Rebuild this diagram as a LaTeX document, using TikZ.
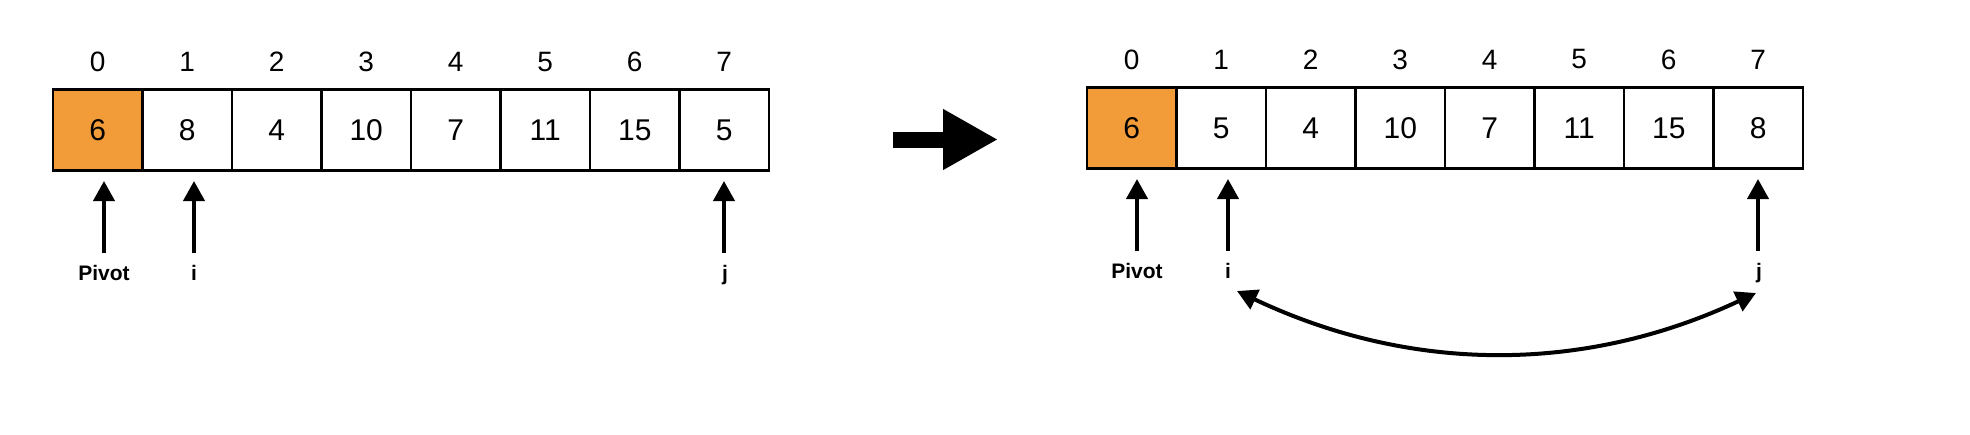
\documentclass[tikz,border=0pt]{standalone}
\usepackage{fontspec}
\setmainfont{Liberation Sans}
\usetikzlibrary{arrows.meta}
\definecolor{pivotorange}{HTML}{F19C38}
\begin{document}
\begin{tikzpicture}[x=1pt,y=-1pt,
 cell/.style={draw=black, line width=2.5pt, minimum width=89.5pt, minimum height=81pt, inner sep=0pt, font=\fontsize{30}{32}\selectfont},
 idx/.style={font=\fontsize{28}{30}\selectfont, inner sep=0pt},
 lbl/.style={font=\bfseries\fontsize{21}{24}\selectfont, inner sep=0pt, anchor=base},
 uparrow/.style={line width=4pt, -{Triangle[length=20pt,width=21pt]}},
 swaparrow/.style={line width=4pt, {Triangle[length=20pt,width=21pt]}-{Triangle[length=20pt,width=21pt]}},
 bigarrow/.style={line width=16pt, -{Triangle[length=55pt,width=57pt]}}]
\useasboundingbox (0,0) rectangle (1970,434);
% left array
\node[cell, fill=pivotorange] (L0) at (97.75,130) {6};
\node[idx] (LI0) at (97.75,62) {0};
\foreach \v [count=\k from 1] in {8,4,10,7,11,15,5} {
  \node[cell] (L\k) at (97.75+89.5*\k,130) {\v};
  \node[idx] (LI\k) at (97.75+89.5*\k,62) {\k};
}
% right array
\node[cell, fill=pivotorange] (R0) at (1131.75,128) {6};
\node[idx] (RI0) at (1131.75,59.5) {0};
\foreach \v [count=\k from 1] in {5,4,10,7,11,15,8} {
  \node[cell] (R\k) at (1131.75+89.5*\k,128) {\v};
  \node[idx] (RI\k) at (1131.75+89.5*\k,59.5) {\k};
}
% labels
\node[lbl] (Lp) at (104,280) {Pivot};
\node[lbl] (Li) at (194,280) {i};
\node[lbl] (Lj) at (725,280) {j};
\node[lbl] (Rp) at (1137,278) {Pivot};
\node[lbl] (Ri) at (1228,278) {i};
\node[lbl] (Rj) at (1759,278) {j};
% pointer arrows
\coordinate (LpA) at (104,253); \coordinate (LpT) at (104,181);
\coordinate (LiA) at (194,253); \coordinate (LiT) at (194,181);
\coordinate (LjA) at (724,253); \coordinate (LjT) at (724,181);
\coordinate (RpA) at (1137,251); \coordinate (RpT) at (1137,179);
\coordinate (RiA) at (1228,251); \coordinate (RiT) at (1228,179);
\coordinate (RjA) at (1758,251); \coordinate (RjT) at (1758,179);
\foreach \p in {Lp,Li,Lj,Rp,Ri,Rj} { \draw[uparrow] (\p A) -- (\p T); }
% big arrow
\coordinate (BA) at (893,139.5); \coordinate (BT) at (998,139.5);
\draw[bigarrow] (BA) -- (BT);
% swap arrow
\coordinate (SI) at (1237,291); \coordinate (SJ) at (1756,293);
\draw[swaparrow] (SI) .. controls (1410,373) and (1583,374) .. (SJ);
\end{tikzpicture}
\end{document}
